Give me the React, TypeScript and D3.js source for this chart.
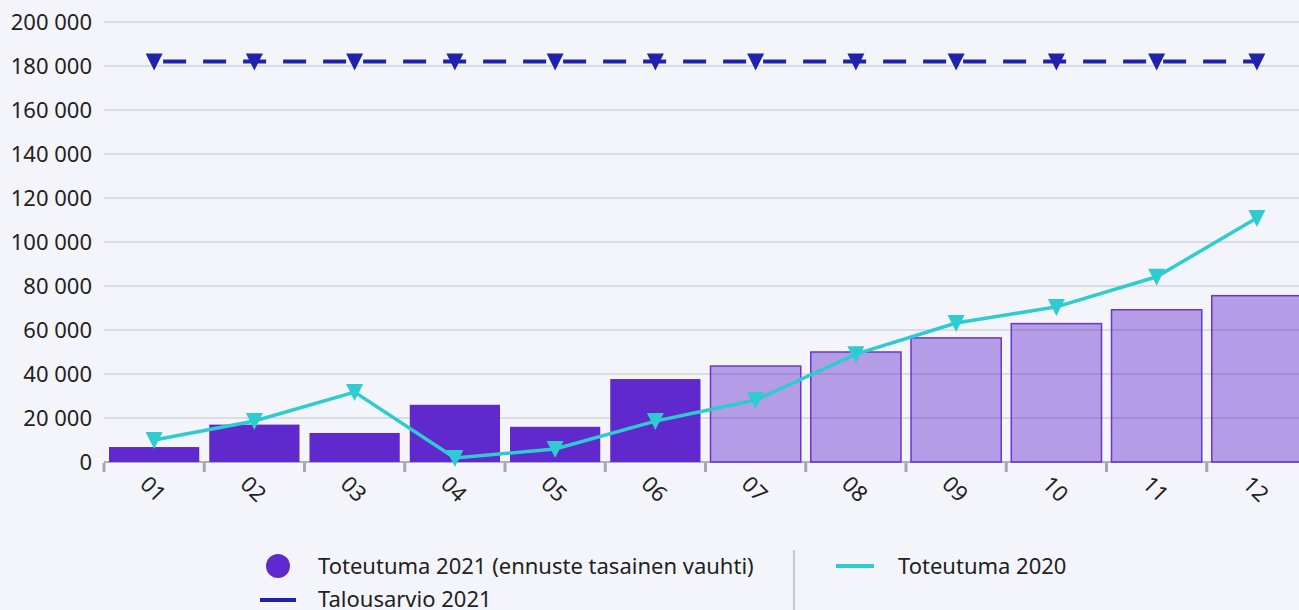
import React from 'react'
import * as d3 from 'd3'

const months = ['01', '02', '03', '04', '05', '06', '07', '08', '09', '10', '11', '12']
const actual2021 = [6800, 17000, 13200, 26000, 16000, 37700, 43600, 50000, 56400, 62900, 69200, 75600]
const isForecast = [false, false, false, false, false, false, true, true, true, true, true, true]
const actual2020 = [10000, 18600, 31800, 1800, 5900, 18600, 28200, 49000, 63200, 70500, 84200, 110900]
const budget2021 = [182000, 182000, 182000, 182000, 182000, 182000, 182000, 182000, 182000, 182000, 182000, 182000]
const yTicks = [0, 20000, 40000, 60000, 80000, 100000, 120000, 140000, 160000, 180000, 200000]

const W = 1299
const H = 610
const font = '"Noto Sans", "Open Sans", sans-serif'
const fs = 22

export default function App() {
  const x = d3.scaleBand<string>().domain(months).range([104, 1307]).paddingInner(0.1).paddingOuter(0.05)
  const band = d3.scaleBand<string>().domain(months).range([104, 1307])
  const y = d3.scaleLinear().domain([0, 200000]).range([462, 22])
  const fmt = (v: number) => d3.format(',')(v).replace(/,/g, ' ')

  const cx = (m: string) => (band(m) as number) + band.bandwidth() / 2
  const line = d3.line<number>().x((_, i) => cx(months[i])).y(d => y(d))

  const tri = (px: number, py: number) => `M${px - 8.5},${py - 8} L${px + 8.5},${py - 8} L${px},${py + 9} Z`

  return (
    <svg width={W} height={H} style={{ display: 'block', position: 'absolute', left: 0, top: 0, background: '#f4f5fa' }}>
      <rect width={W} height={H} fill="#f4f5fa" />
      {yTicks.map(t => (
        <g key={t}>
          <line x1={104} x2={W} y1={y(t)} y2={y(t)} stroke="#d2d3da" strokeWidth={1.5} />
          <text x={92} y={y(t)} dy="0.35em" textAnchor="end" fontFamily={font} fontSize={fs} fill="#222">{fmt(t)}</text>
        </g>
      ))}
      <line x1={104} x2={W} y1={462} y2={462} stroke="#b0b0b6" strokeWidth={2} />
      {months.map(m => (
        <rect key={'t' + m} x={(band(m) as number) - 1.5} y={463} width={3} height={9} fill="#a6a6ab" />
      ))}
      {months.map((m, i) => (
        <rect key={'b' + m}
          x={x(m)} y={y(actual2021[i])} width={x.bandwidth()} height={y(0) - y(actual2021[i])}
          fill={isForecast[i] ? 'rgba(96,41,205,0.43)' : '#6029cd'}
          stroke={isForecast[i] ? '#6a35d0' : 'none'} strokeWidth={1.5} />
      ))}
      {months.map(m => (
        <text key={'l' + m} transform={`translate(${cx(m) - 1},${489}) rotate(45)`} textAnchor="middle" dy="0.35em"
          fontFamily={font} fontSize={fs} fill="#222">{m}</text>
      ))}
      <path d={line(actual2020) as string} fill="none" stroke="#2ecbd1" strokeWidth={3.5} />
      {actual2020.map((v, i) => (
        <path key={'a' + i} d={tri(cx(months[i]), y(v))} fill="#2ecbd1" />
      ))}
      <path d={line(budget2021) as string} fill="none" stroke="#1f22ad" strokeWidth={4} strokeDasharray="23 17" strokeDashoffset={-9} />
      {budget2021.map((v, i) => (
        <path key={'g' + i} d={tri(cx(months[i]), y(v))} fill="#1f22ad" />
      ))}
      {/* legend */}
      <circle cx={278} cy={566} r={12} fill="#6029cd" />
      <text x={318} y={566} dy="0.35em" fontFamily={font} fontSize={fs} fill="#222">Toteutuma 2021 (ennuste tasainen vauhti)</text>
      <line x1={794} x2={794} y1={550} y2={610} stroke="#c8c8cc" strokeWidth={2} />
      <line x1={836} x2={874} y1={566} y2={566} stroke="#2ecbd1" strokeWidth={4} />
      <text x={898} y={566} dy="0.35em" fontFamily={font} fontSize={fs} fill="#222">Toteutuma 2020</text>
      <line x1={260} x2={296} y1={600} y2={600} stroke="#1f22ad" strokeWidth={4} />
      <text x={318} y={599} dy="0.35em" fontFamily={font} fontSize={fs} fill="#222">Talousarvio 2021</text>
    </svg>
  )
}
